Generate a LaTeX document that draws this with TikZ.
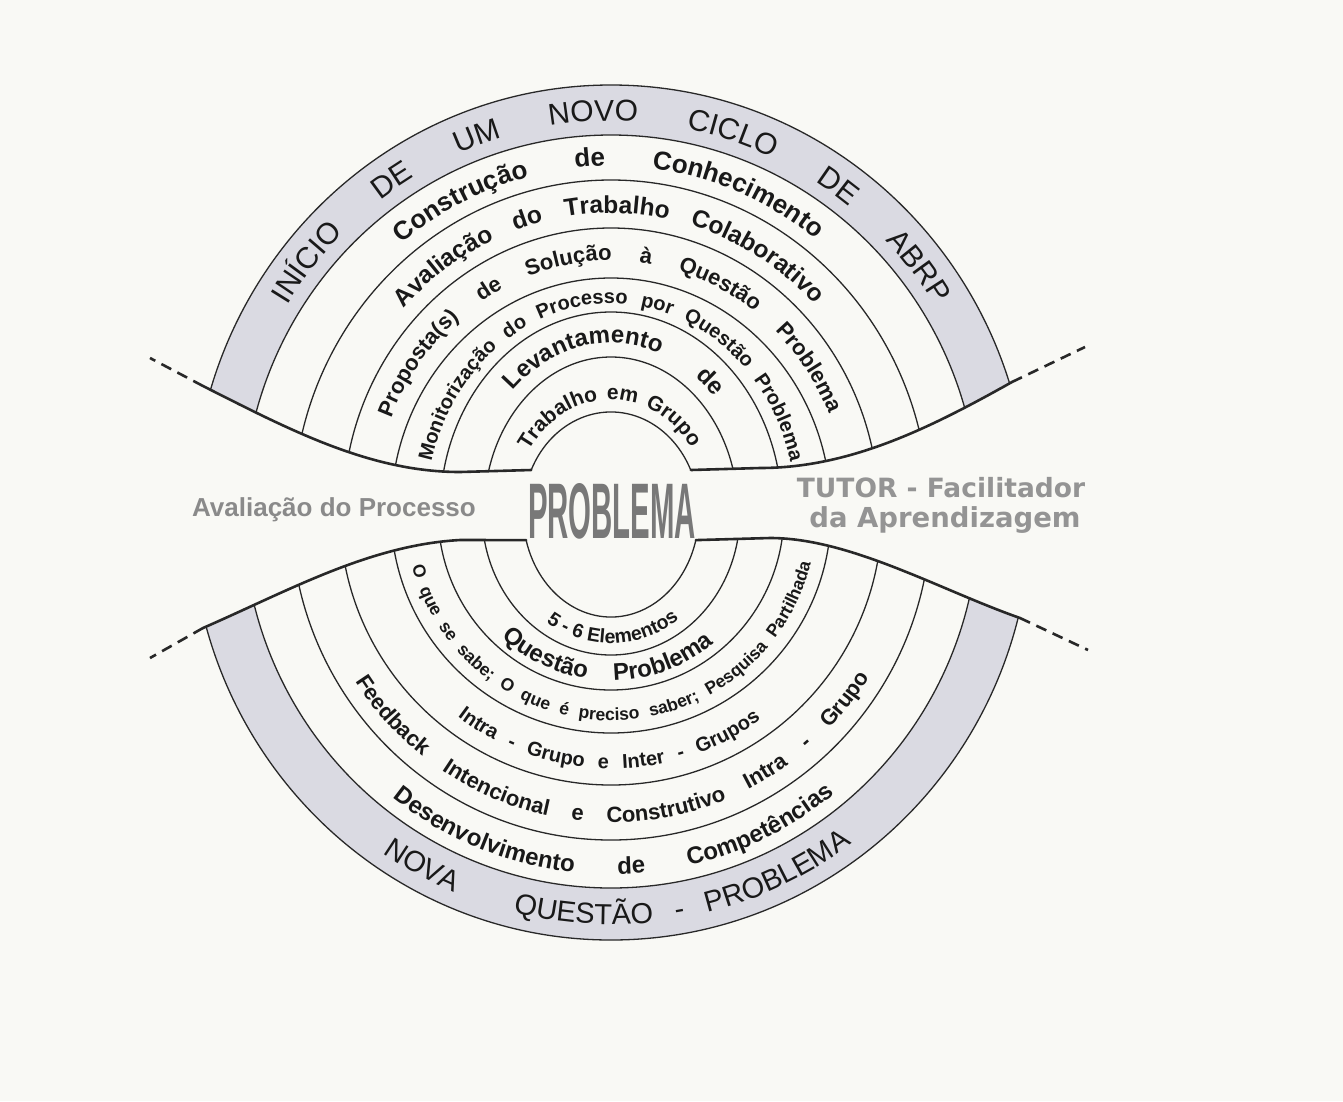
\documentclass[tikz,border=0pt]{standalone}
\usepackage{fontspec}
\usepackage{graphicx}
\setmainfont{Liberation Sans}
\newfontfamily\dvfont{DejaVu Sans}
\usetikzlibrary{decorations.text}
\definecolor{bgc}{RGB}{249,249,245}
\definecolor{ringgray}{RGB}{218,218,226}
\definecolor{linec}{RGB}{40,40,40}
\definecolor{bandtext}{RGB}{138,138,138}
\definecolor{tutorgray}{RGB}{148,148,148}
\definecolor{probgray}{RGB}{120,120,120}
\definecolor{txt}{RGB}{25,25,25}
\newcommand\fs[1]{\fontsize{#1}{#1}\selectfont}
% #1 alignment, #2 start angle, #3 end angle, #4 x radius, #5 y radius, #6 format, #7 text
\newcommand\arctext[7]{%
  \path[decorate,decoration={text along path,text align={#1},text color=txt,text={|#6|#7}}]
    ([shift={(611,-512.5)}]#2:#4 and #5) arc[start angle=#2,end angle=#3,x radius=#4,y radius=#5];}
\tikzset{
  ring/.style={draw=linec,line width=1.3pt},
  band/.style={draw=linec,line width=2.6pt,line cap=round},
  dashline/.style={draw=linec,line width=2.6pt,dash pattern=on 11pt off 7pt},
  bandlabel/.style={anchor=base,inner sep=0pt}
}
\begin{document}
\begin{tikzpicture}[x=1pt,y=1pt]
\fill[bgc] (0,0) rectangle (1343,-1101);
\useasboundingbox (0,0) rectangle (1343,-1101);
\coordinate (C) at (611,-512.5);

% ---------- upper half ----------
\begin{scope}
\clip (0,0) -- (1343,0) -- (1343,-347) -- (1085,-347) -- (1012,-382)
  .. controls (930,-428) and (850,-468) .. (760,-468) -- (690.8,-470)
  arc[start angle=25,end angle=155,x radius=88,y radius=100.5]
  -- (460,-472) .. controls (370,-472) and (290,-430) .. (203,-386)
  -- (150,-358) -- (0,-358) -- cycle;
\fill[ringgray] (C) ellipse[x radius=418,y radius=427.5];
\fill[bgc] (C) ellipse[x radius=368,y radius=377.5];
\foreach \a/\b in {418/427.5,368/377.5,318/332.5,268/284.5,220/234.5,171/200.5,127/155.5}
  \draw[ring] (C) ellipse[x radius=\a,y radius=\b];
\end{scope}

% ---------- lower half ----------
\begin{scope}
\clip (0,-1101) -- (1343,-1101) -- (1343,-650) -- (1088,-650) -- (1020,-618)
  .. controls (940,-590) and (850,-538) .. (770,-538) -- (695.9,-540.1)
  arc[start angle=-15.3,end angle=-164.7,x radius=88,y radius=104.5]
  -- (460,-540) .. controls (370,-545) and (290,-590) .. (203,-628)
  -- (150,-658) -- (0,-658) -- cycle;
\fill[ringgray] (C) ellipse[x radius=420,y radius=427.5];
\fill[bgc] (C) ellipse[x radius=368,y radius=375.5];
\foreach \a/\b in {420/427.5,368/375.5,320/327.5,271/272.5,220/220.5,173/177.5,129/142.5}
  \draw[ring] (C) ellipse[x radius=\a,y radius=\b];
\end{scope}

% ---------- band boundaries ----------
\coordinate (tl0) at (203,-386);
\coordinate (tl1) at (531.2,-470);
\coordinate (tr0) at (690.8,-470);
\coordinate (tr1) at (1012,-382);
\coordinate (bl0) at (203,-628);
\coordinate (bl1) at (526.1,-540.1);
\coordinate (br0) at (695.9,-540.1);
\coordinate (br1) at (1020,-618);
\coordinate (dtl) at (150,-358);
\coordinate (dtr) at (1085,-347);
\coordinate (dbl) at (150,-658);
\coordinate (dbr) at (1088,-650);

\draw[band] (tl0) .. controls (290,-430) and (370,-472) .. (460,-472) -- (tl1);
\draw[ring] (tl1) arc[start angle=155,end angle=25,x radius=88,y radius=100.5];
\draw[band] (tr0) -- (760,-468) .. controls (850,-468) and (930,-428) .. (tr1);
\draw[dashline] (tl0) -- (dtl);
\draw[dashline] (tr1) -- (dtr);

\draw[band] (bl0) .. controls (290,-590) and (370,-545) .. (460,-540) -- (bl1);
\draw[ring] (bl1) arc[start angle=195.3,end angle=344.7,x radius=88,y radius=104.5];
\draw[band] (br0) -- (770,-538) .. controls (850,-538) and (940,-590) .. (br1);
\draw[dashline] (bl0) -- (dbl);
\draw[dashline] (br1) -- (dbr);

% ---------- ring texts, upper ----------
\arctext{fit to path stretching spaces}{148}{32}{382}{391.5}{\fs{30}}{INÍCIO DE UM NOVO CICLO DE ABRP}
\arctext{fit to path stretching spaces}{129}{52}{332}{346.5}{\bfseries\fs{26}}{Construção de Conhecimento}
\arctext{fit to path stretching spaces}{137}{44}{283}{299.5}{\bfseries\fs{24.5}}{Avaliação do Trabalho Colaborativo}
\arctext{fit to path stretching spaces}{158}{23}{237}{252}{\bfseries\fs{22}}{Proposta(s) de Solução à Questão Problema}
\arctext{fit to path stretching spaces}{166}{14}{185}{209}{\bfseries\fs{20}}{Monitorização do Processo por Questão Problema}
\arctext{fit to path stretching spaces}{134}{43}{141}{169.5}{\bfseries\fs{24}}{Levantamento de}
\arctext{fit to path stretching spaces}{147}{35}{98}{113}{\bfseries\fs{21}}{Trabalho em Grupo}

% ---------- ring texts, lower ----------
\arctext{center}{230}{312}{118}{131}{\bfseries\fs{19.5}}{5 - 6 Elementos}
\arctext{fit to path stretching spaces}{228}{309}{164}{168}{\bfseries\fs{24}}{Questão Problema}
\arctext{fit to path stretching spaces}{195}{346}{206}{208}{\bfseries\fs{17.5}}{O que se sabe; O que é preciso saber; Pesquisa Partilhada}
\arctext{fit to path stretching spaces}{233}{306}{255}{256}{\bfseries\fs{20}}{Intra - Grupo e Inter - Grupos}
\arctext{fit to path stretching spaces}{213}{328}{305}{310}{\bfseries\fs{22}}{Feedback Intencional e Construtivo Intra - Grupo}
\arctext{fit to path stretching spaces}{232}{309}{355}{362}{\bfseries\fs{24}}{Desenvolvimento de Competências}
\arctext{center}{233}{250}{405}{412}{\fs{29}}{NOVA}
\arctext{fit to path stretching spaces}{256}{306.5}{405}{412}{\fs{29}}{QUESTÃO - PROBLEMA}

% ---------- band labels ----------
\node[bandlabel,text=bandtext,font=\bfseries\fs{26}] (aval) at (334,-516) {Avaliação do Processo};
\node[bandlabel,text=probgray] (prob) at (612,-538) {\resizebox{168pt}{55pt}{\bfseries PROBLEMA}};
\node[bandlabel,text=tutorgray,font=\dvfont\bfseries\fs{26.5}] (tutor) at (941,-497) {TUTOR - Facilitador};
\node[bandlabel,text=tutorgray,font=\dvfont\bfseries\fs{27.5}] (aprend) at (945,-527) {da Aprendizagem};
\end{tikzpicture}
\end{document}
